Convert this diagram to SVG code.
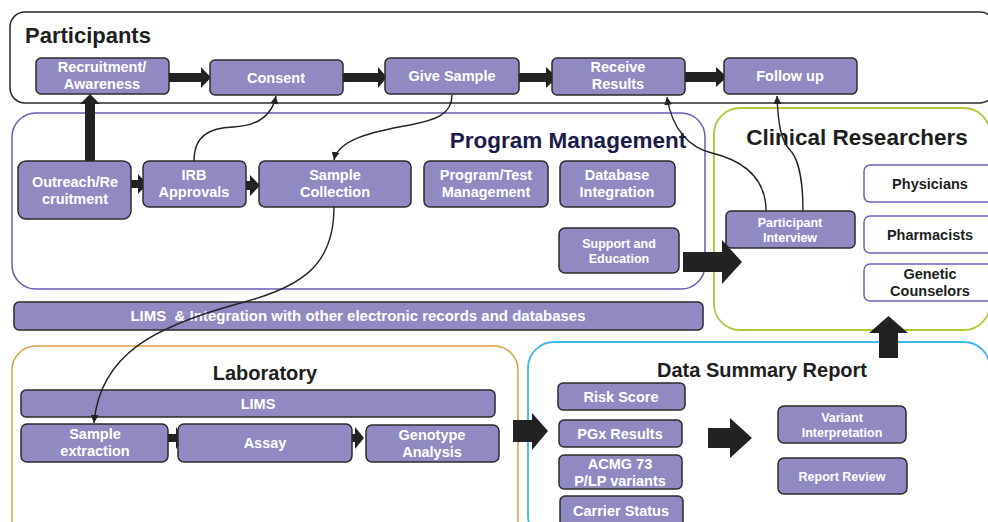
<svg xmlns="http://www.w3.org/2000/svg" width="988" height="522" viewBox="0 0 988 522">
<defs>
<style>
.node{fill:#9189c1;stroke:#2b2b2b;stroke-width:1.5}
.wnode{fill:#ffffff;stroke:#6a63b8;stroke-width:1.5}
.t{font-family:"Liberation Sans",Arial,sans-serif;font-weight:bold;fill:#ffffff;text-anchor:middle;font-size:14.5px}
.ts{font-size:12.5px}
.td{fill:#1e1e1e}
.title{font-family:"Liberation Sans",Arial,sans-serif;font-weight:bold;fill:#1e1e1e}
.blk{fill:#222222}
.con{fill:none;stroke:#222222;stroke-width:1.4;marker-end:url(#ah)}
</style>
<marker id="ah" markerUnits="userSpaceOnUse" markerWidth="10" markerHeight="10" refX="8" refY="4" orient="auto">
<path d="M0,0 L8,4 L0,8 Z" fill="#222222"/>
</marker>
</defs>

<g id="containers">
<rect x="10" y="12" width="985" height="91" rx="15" fill="#ffffff" stroke="#2b2b2b" stroke-width="1.5"/>
<rect x="12" y="113" width="693" height="176" rx="24" fill="#ffffff" stroke="#6560b5" stroke-width="1.5"/>
<rect x="714" y="108" width="276" height="222" rx="26" fill="#ffffff" stroke="#b8c43a" stroke-width="1.8"/>
<rect x="12" y="346" width="506" height="200" rx="24" fill="#ffffff" stroke="#d9a040" stroke-width="1.5"/>
<rect x="528" y="342" width="462" height="200" rx="26" fill="#ffffff" stroke="#3db6e8" stroke-width="1.8"/>
</g>

<g id="titles">
<text class="title" x="25" y="43" font-size="22">Participants</text>
<text class="title" x="568" y="148" font-size="22.5" text-anchor="middle" style="fill:#1b1a4a">Program Management</text>
<text class="title" x="857" y="145" font-size="22.5" text-anchor="middle">Clinical Researchers</text>
<text class="title" x="265" y="380" font-size="20" text-anchor="middle">Laboratory</text>
<text class="title" x="762" y="377" font-size="20" text-anchor="middle">Data Summary Report</text>
</g>

<g id="block-arrows">
<polygon class="blk" points="169,73 201,73 201,67 211,77.5 201,88 201,82 169,82"/>
<polygon class="blk" points="343,73 378,73 378,67 387,77.5 378,88 378,82 343,82"/>
<polygon class="blk" points="519,73 546,73 546,67 557,77.5 546,88 546,82 519,82"/>
<polygon class="blk" points="685,72 716,72 716,67 727,77 716,87 716,82 685,82"/>
<polygon class="blk" points="85,161 85,104 80,104 90,94 100,104 95,104 95,161"/>
<polygon class="blk" points="125,180 138,180 138,174 147,184 138,194 138,188 125,188"/>
<polygon class="blk" points="236,181 250,181 250,175 260,185.5 250,196 250,190 236,190"/>
<polygon class="blk" points="683,252 722,252 722,240 742,262 722,284 722,272 683,272"/>
<polygon class="blk" points="162,434 176,434 176,427 184,438 176,449 176,442 162,442"/>
<polygon class="blk" points="341,434 355,434 355,427 364,438 355,449 355,442 341,442"/>
<polygon class="blk" points="513,420 532,420 532,413 548,431 532,450 532,442 513,442"/>
<polygon class="blk" points="708,428 730,428 730,418 752,438 730,458 730,448 708,448"/>
<polygon class="blk" points="879,358 879,333 869,333 888.5,316 908,333 898,333 898,358"/>
</g>

<g id="n-recruitment"><rect class="node" x="36" y="58" width="133" height="36" rx="5"/><text class="t" x="102" y="72">Recruitment/</text><text class="t" x="102" y="89">Awareness</text></g>
<g id="n-consent"><rect class="node" x="210" y="60" width="133" height="35" rx="5"/><text class="t" x="276" y="83">Consent</text></g>
<g id="n-givesample"><rect class="node" x="385" y="58" width="134" height="36" rx="5"/><text class="t" x="452" y="81">Give Sample</text></g>
<g id="n-receive"><rect class="node" x="552" y="58" width="133" height="37" rx="5"/><text class="t" x="618" y="72">Receive</text><text class="t" x="618" y="89">Results</text></g>
<g id="n-followup"><rect class="node" x="724" y="58" width="133" height="36" rx="5"/><text class="t" x="790" y="81">Follow up</text></g>

<g id="n-outreach"><rect class="node" x="18" y="161" width="113" height="58" rx="8"/><text class="t" x="75" y="187">Outreach/Re</text><text class="t" x="75" y="204">cruitment</text></g>
<g id="n-irb"><rect class="node" x="143" y="161" width="103" height="46" rx="6"/><text class="t" x="194" y="180">IRB</text><text class="t" x="194" y="197">Approvals</text></g>
<g id="n-samplecollection"><rect class="node" x="259" y="161" width="152" height="46" rx="6"/><text class="t" x="335" y="180">Sample</text><text class="t" x="335" y="197">Collection</text></g>
<g id="n-programtest"><rect class="node" x="424" y="161" width="124" height="46" rx="6"/><text class="t" x="486" y="180">Program/Test</text><text class="t" x="486" y="197">Management</text></g>
<g id="n-database"><rect class="node" x="560" y="161" width="115" height="46" rx="6"/><text class="t" x="617" y="180">Database</text><text class="t" x="617" y="197">Integration</text></g>
<g id="n-support"><rect class="node" x="559" y="228" width="120" height="45" rx="6"/><text class="t ts" x="619" y="248">Support and</text><text class="t ts" x="619" y="263">Education</text></g>

<g id="n-interview"><rect class="node" x="726" y="211" width="129" height="37" rx="5"/><text class="t ts" x="790" y="227">Participant</text><text class="t ts" x="790" y="242">Interview</text></g>
<g id="n-physicians"><rect class="wnode" x="864" y="165" width="135" height="37" rx="6"/><text class="t td" x="930" y="189">Physicians</text></g>
<g id="n-pharmacists"><rect class="wnode" x="864" y="216" width="135" height="37" rx="6"/><text class="t td" x="930" y="240">Pharmacists</text></g>
<g id="n-genetic"><rect class="wnode" x="864" y="264" width="135" height="37" rx="6"/><text class="t td" x="930" y="279">Genetic</text><text class="t td" x="930" y="296">Counselors</text></g>

<g id="n-lims-integration"><rect class="node" x="14" y="302" width="689" height="28" rx="5"/><text class="t" x="358" y="321" style="white-space:pre;font-size:15px" xml:space="preserve">LIMS  &amp; Integration with other electronic records and databases</text></g>

<g id="n-lims"><rect class="node" x="21" y="390" width="474" height="27" rx="5"/><text class="t" x="258" y="409">LIMS</text></g>
<g id="n-extraction"><rect class="node" x="21" y="424" width="147" height="38" rx="6"/><text class="t" x="95" y="439">Sample</text><text class="t" x="95" y="456">extraction</text></g>
<g id="n-assay"><rect class="node" x="178" y="424" width="174" height="38" rx="6"/><text class="t" x="265" y="448">Assay</text></g>
<g id="n-genotype"><rect class="node" x="366" y="425" width="133" height="37" rx="6"/><text class="t" x="432" y="440">Genotype</text><text class="t" x="432" y="457">Analysis</text></g>

<g id="n-risk"><rect class="node" x="558" y="383" width="127" height="27" rx="5"/><text class="t" x="621" y="402">Risk Score</text></g>
<g id="n-pgx"><rect class="node" x="559" y="420" width="123" height="27" rx="5"/><text class="t" x="620" y="439">PGx Results</text></g>
<g id="n-acmg"><rect class="node" x="559" y="455" width="123" height="34" rx="5"/><text class="t" x="620" y="469">ACMG 73</text><text class="t" x="620" y="486">P/LP variants</text></g>
<g id="n-carrier"><rect class="node" x="560" y="496" width="123" height="32" rx="5"/><text class="t" x="621" y="516">Carrier Status</text></g>
<g id="n-variant"><rect class="node" x="778" y="406" width="128" height="37" rx="6"/><text class="t ts" x="842" y="422">Variant</text><text class="t ts" x="842" y="437">Interpretation</text></g>
<g id="n-review"><rect class="node" x="778" y="458" width="129" height="36" rx="6"/><text class="t ts" x="842" y="481">Report Review</text></g>

<g id="connectors">
<path class="con" d="M194,161 C194,135 210,128 233,127 C258,126 272,115 276,96"/>
<path class="con" d="M452,95 C452,115 435,120 410,125 C370,132 338,140 334,160"/>
<path class="con" d="M334,207 C334,268 300,288 230,306 C160,326 100,352 94,423"/>
<path class="con" d="M766,211 C766,175 740,160 712,153 C690,148 672,130 667,97"/>
<path class="con" d="M803,211 C803,170 795,155 790,150 C780,140 778,120 777,96"/>
</g>
</svg>
